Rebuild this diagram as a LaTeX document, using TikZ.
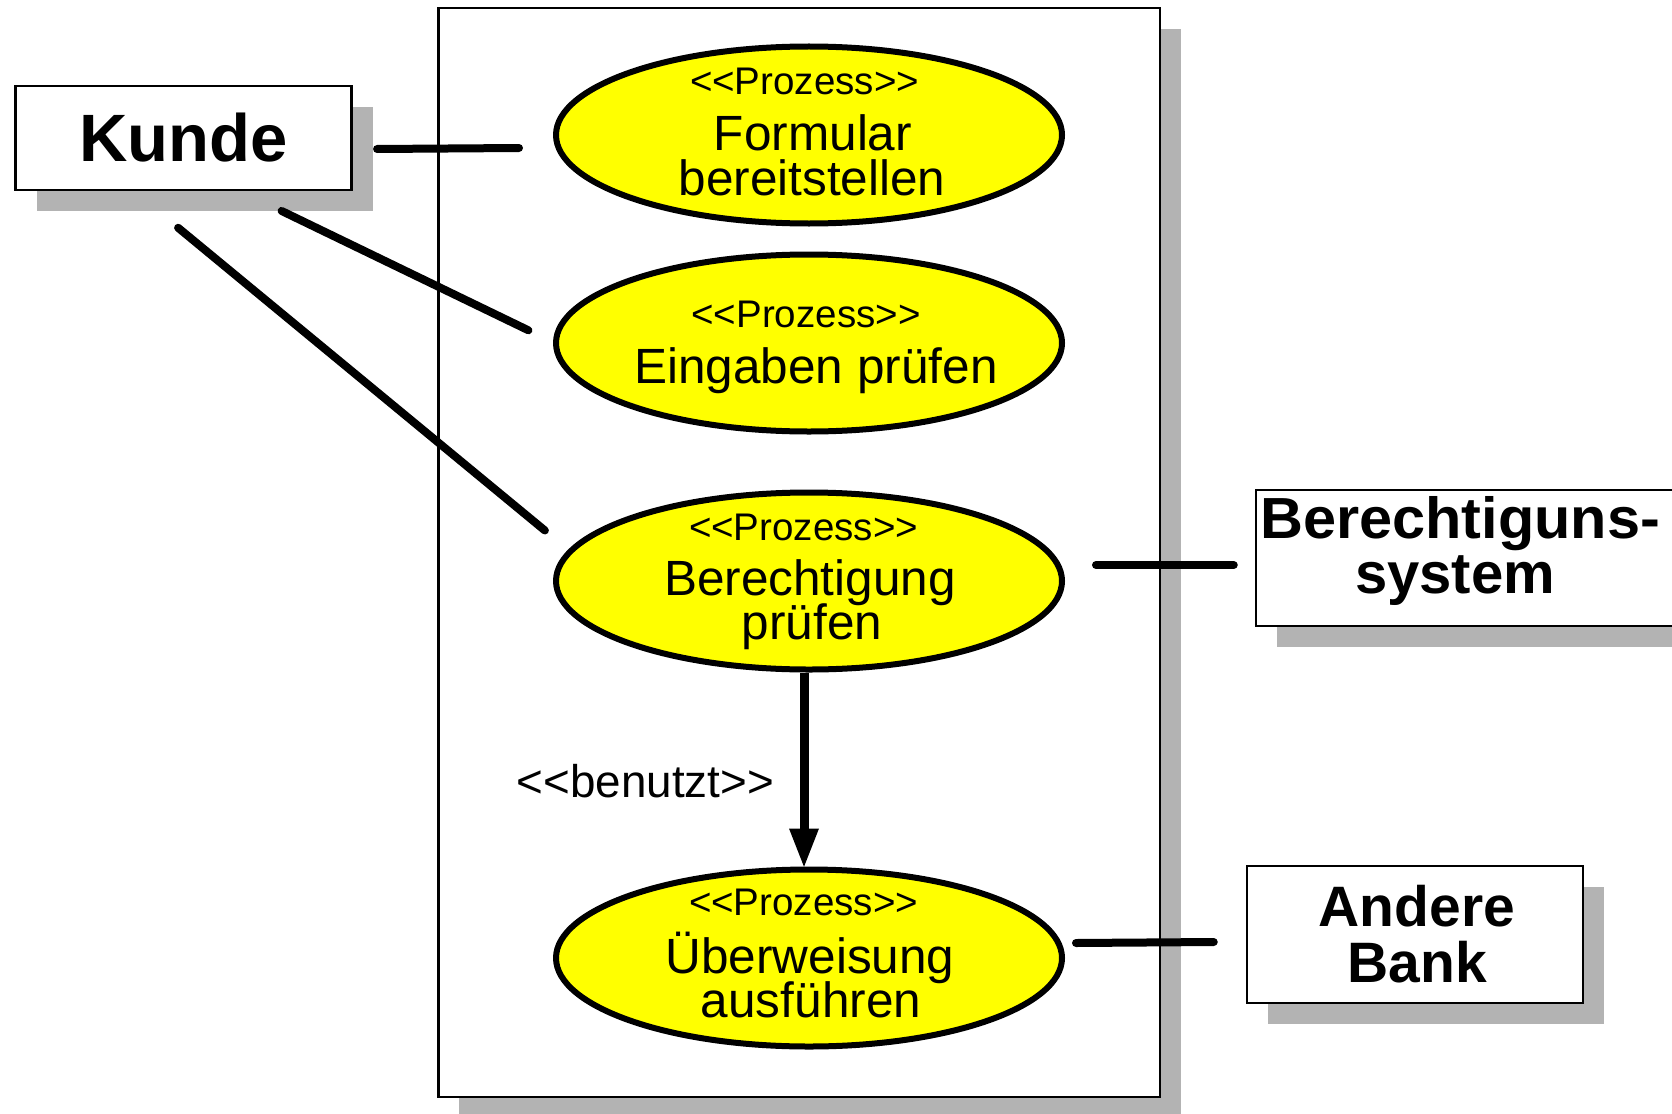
\documentclass[tikz,border=0pt]{standalone}
\usepackage{fontspec}
\usepackage{graphicx}
\setmainfont{Liberation Sans}
\usetikzlibrary{shapes.geometric,arrows.meta,calc,shadows}
\definecolor{ucyellow}{RGB}{255,255,0}
\definecolor{shadowgray}{RGB}{179,179,179}
\newcommand{\lsq}{\mbox{<}\mbox{<}}
\newcommand{\rsq}{\mbox{>}\mbox{>}}
\tikzset{
  actorbox/.style={rectangle, draw=black, line width=2.5pt, fill=white, inner sep=0pt,
    drop shadow={shadow xshift=21pt, shadow yshift=-21pt, fill=shadowgray, opacity=1}},
  usecase/.style={ellipse, draw=black, line width=6pt, fill=ucyellow,
    minimum width=506pt, minimum height=177pt, inner sep=0pt},
  stereo/.style={anchor=base, inner sep=0pt, font=\fontsize{38.5}{40}\selectfont},
  uctext/.style={anchor=base, inner sep=0pt, font=\fontsize{49.5}{50}\selectfont},
  actortext/.style={anchor=base, inner sep=0pt, font=\fontsize{58}{60}\selectfont\bfseries},
  conn/.style={draw=black, line width=8pt, line cap=round},
  usesarrow/.style={draw=black, line width=9pt, -{Triangle[length=40pt,width=27pt]}},
}
\begin{document}
\begin{tikzpicture}[x=1pt,y=-1pt]
\useasboundingbox (0,0) rectangle (1672,1113);
\clip (0,0) rectangle (1672,1113);

% system boundary
\node[actorbox, minimum width=721.5pt, minimum height=1089pt] (sys) at (799,552.4) {};

% actors
\node[actorbox, minimum width=336pt, minimum height=104pt,
      font=\fontsize{67}{70}\selectfont\bfseries] (kunde) at (183.5,138) {Kunde};

\node[actorbox, minimum width=434pt, minimum height=136pt] (berecht) at (1473,558) {};
\node[actortext] (berecht1) at (1460,538) {\scalebox{1.025}[1]{Berechtiguns-}};
\node[actortext] (berecht2) at (1455,593) {system};

\node[actorbox, minimum width=336pt, minimum height=137pt] (bank) at (1415,934.5) {};
\node[actortext, font=\fontsize{57}{60}\selectfont\bfseries] (bank1) at (1417,926) {Andere};
\node[actortext, font=\fontsize{57}{60}\selectfont\bfseries] (bank2) at (1417,982) {Bank};

% use cases
\node[usecase] (e1) at (809,135) {};
\node[stereo] (e1s) at (804.5,95) {\lsq Prozess\rsq};
\node[uctext] (e1a) at (813,150) {Formular};
\node[uctext] (e1b) at (812,195) {bereitstellen};

\node[usecase] (e2) at (809,343) {};
\node[stereo] (e2s) at (806,327) {\lsq Prozess\rsq};
\node[uctext] (e2a) at (816,383) {Eingaben prüfen};

\node[usecase] (e3) at (809,581) {};
\node[stereo] (e3s) at (803.5,540) {\lsq Prozess\rsq};
\node[uctext] (e3a) at (810,595) {Berechtigung};
\node[uctext] (e3b) at (812,639) {prüfen};

\node[usecase] (e4) at (809,958) {};
\node[stereo] (e4s) at (803.5,915) {\lsq Prozess\rsq};
\node[uctext] (e4a) at (810,973) {Überweisung};
\node[uctext] (e4b) at (811,1017) {ausführen};

% associations
\draw[conn] ($(kunde.east)+(24.3,11)$) -- ($(e1.west)+(-34,13)$);
\draw[conn] ($(kunde.south)+(98.1,19.7)$) -- ($(e2.west)+(-24.6,-12.7)$);
\draw[conn] ($(kunde.south)+(-5.4,36.5)$) -- ($(e3.west)+(-8.1,-50.5)$);
\draw[conn] ($(e3.east)+(31,-16)$) -- ($(berecht.west)+(-21,7)$);
\draw[conn] ($(e4.east)+(11,-15)$) -- ($(bank.west)+(-32,7.5)$);

% include relation
\draw[usesarrow] ($(e3.south)+(-5,0)$) -- ($(e4.north)+(-5,2)$);
\node[anchor=base, inner sep=0pt, font=\fontsize{45.8}{48}\selectfont] (benutzt) at (645.5,797) {\lsq benutzt\rsq};
\end{tikzpicture}
\end{document}
